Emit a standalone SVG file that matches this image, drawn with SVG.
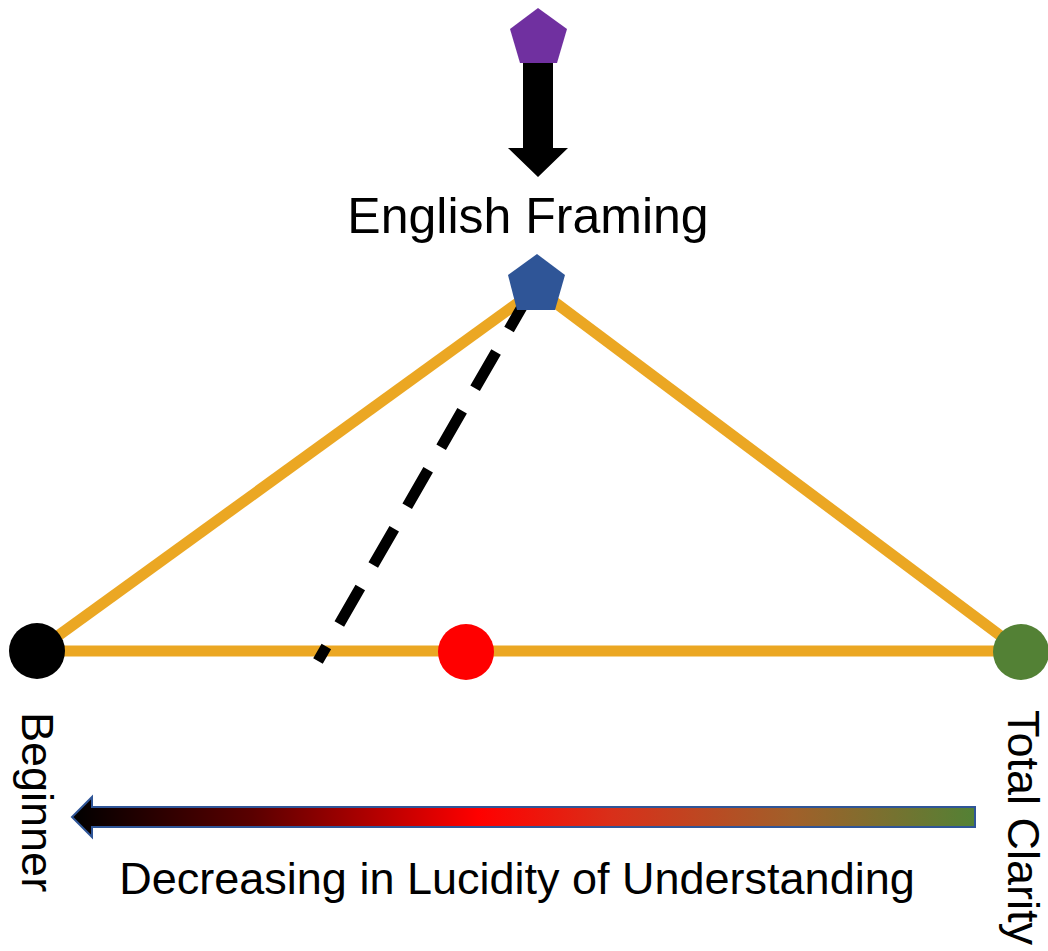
<svg xmlns="http://www.w3.org/2000/svg" width="1048" height="951" viewBox="0 0 1048 951">
  <style>
    .lbl { font-family: "Liberation Sans", Arial, sans-serif; fill: #000; }
    .edge { stroke: #EBA723; stroke-width: 11; fill: none; }
  </style>
  <defs>
    <linearGradient id="grad" x1="72" y1="0" x2="975" y2="0" gradientUnits="userSpaceOnUse">
      <stop offset="0" stop-color="#000000"/>
      <stop offset="0.2" stop-color="#5A0000"/>
      <stop offset="0.45" stop-color="#FF0000"/>
      <stop offset="0.6" stop-color="#D8301A"/>
      <stop offset="0.8" stop-color="#A0602A"/>
      <stop offset="1" stop-color="#538135"/>
    </linearGradient>
  </defs>
  <rect width="1048" height="951" fill="#fff"/>
  <g id="connectors">
    <line class="edge" x1="37" y1="651" x2="537" y2="289"/>
    <line class="edge" x1="537" y1="289" x2="1021" y2="651"/>
    <line class="edge" x1="37" y1="651" x2="1021" y2="651"/>
    <line x1="530" y1="293" x2="318" y2="661" stroke="#000" stroke-width="11" stroke-dasharray="42,26"/>
    <polygon points="523,60 553,60 553,148 568,148 538,177 508,148 523,148" fill="#000"/>
  </g>
  <g id="top-pentagon">
    <polygon points="538,8 567,29 557,63 520,63 510,29" fill="#7030A0"/>
  </g>
  <g id="english-framing">
    <text class="lbl" x="528" y="233" font-size="50" text-anchor="middle">English Framing</text>
    <polygon points="537,254 565,275 555,310 517,310 508,275" fill="#2F5597"/>
  </g>
  <g id="beginner">
    <circle cx="37" cy="651" r="28" fill="#000"/>
    <text class="lbl" font-size="45" transform="translate(22,712) rotate(90)">Beginner</text>
  </g>
  <g id="middle">
    <circle cx="466" cy="652" r="28" fill="#FF0000"/>
  </g>
  <g id="total-clarity">
    <circle cx="1021" cy="652" r="28" fill="#538135"/>
    <text class="lbl" font-size="45" transform="translate(1008,710) rotate(90)">Total Clarity</text>
  </g>
  <g id="scale">
    <polygon points="975,807 975,827 92,827 92,837 72,817 92,797 92,807" fill="url(#grad)" stroke="#2F5597" stroke-width="2" stroke-linejoin="miter"/>
    <text class="lbl" x="517" y="894" font-size="45" text-anchor="middle">Decreasing in Lucidity of Understanding</text>
  </g>
</svg>
